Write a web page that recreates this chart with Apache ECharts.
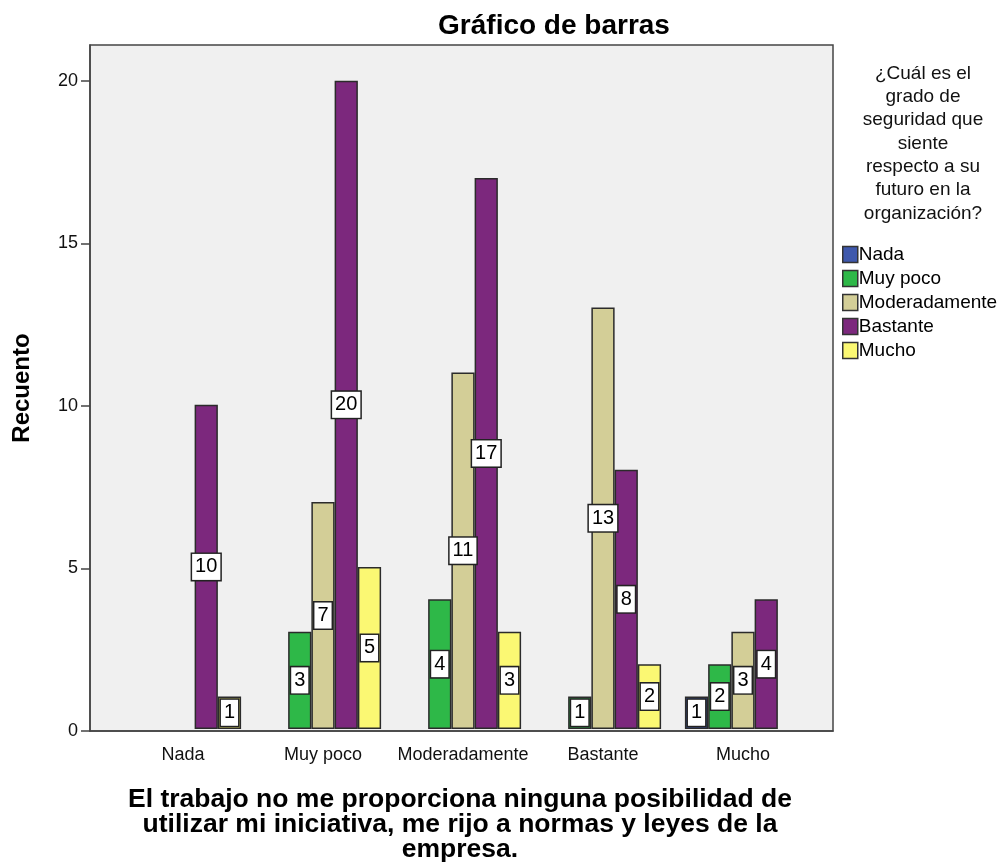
<!DOCTYPE html>
<html>
<head>
<meta charset="utf-8">
<script src="https://cdn.jsdelivr.net/npm/echarts@6/dist/echarts.min.js"></script>
<style>
  html, body { margin: 0; padding: 0; background: #fff; }
  #chart { width: 1003px; height: 868px; }
</style>
</head>
<body>
<div id="chart"></div>
<script>
  // categorias del eje x (respuesta a la pregunta del trabajo)
  var categories = ['Nada', 'Muy poco', 'Moderadamente', 'Bastante', 'Mucho'];
  // series = grado de seguridad
  var seriesNames = ['Nada', 'Muy poco', 'Moderadamente', 'Bastante', 'Mucho'];
  var valNada = [null, null, null, null, 1];
  var valMuyPoco = [null, 3, 4, 1, 2];
  var valModeradamente = [null, 7, 11, 13, 3];
  var valBastante = [10, 20, 17, 8, 4];
  var valMucho = [1, 5, 3, 2, null];
  var yTicks = [0, 5, 10, 15, 20];

  var colors = ['#3E58AC', '#2EB848', '#D3CE97', '#7C287D', '#FBF873'];
  var allValues = [valNada, valMuyPoco, valModeradamente, valBastante, valMucho];
  var font = '"Liberation Sans", Arial, sans-serif';
  var yMax = 21.1;

  var myChart = echarts.init(document.getElementById('chart'));

  var series = seriesNames.map(function (name, i) {
    return {
      name: name,
      type: 'bar',
      xAxisIndex: 1,
      yAxisIndex: 1,
      data: allValues[i],
      barGap: '0%',
      barCategoryGap: '17%',
      itemStyle: {
        color: colors[i],
        borderColor: '#2b2b2b',
        borderWidth: 1.5
      },
      label: {
        show: true,
        position: 'inside',
        color: '#000',
        fontFamily: font,
        fontSize: 20,
        backgroundColor: '#fff',
        borderColor: '#222',
        borderWidth: 1.5,
        padding: [4, 3, 2, 3]
      }
    };
  });

  myChart.setOption({
    animation: false,
    color: colors,
    title: [{
      text: 'Gráfico de barras',
      left: 549,
      top: 7,
      textAlign: 'center',
      textStyle: { fontFamily: font, fontSize: 28, fontWeight: 'bold', color: '#000' }
    }, {
      text: '¿Cuál es el\ngrado de\nseguridad que\nsiente\nrespecto a su\nfuturo en la\norganización?',
      left: 918,
      top: 57,
      textAlign: 'center',
      textStyle: { fontFamily: font, fontSize: 19, fontWeight: 'normal', color: '#111', lineHeight: 23.3, align: 'center' }
    }],
    legend: {
      orient: 'vertical',
      left: 837,
      top: 240,
      itemWidth: 15,
      itemHeight: 16,
      itemGap: 5,
      icon: 'rect',
      itemStyle: { borderColor: '#333', borderWidth: 1.5 },
      textStyle: { fontFamily: font, fontSize: 19, color: '#000', padding: [0, 0, 0, -4] },
      data: seriesNames
    },
    grid: [{
      // marco con fondo gris y eje y
      left: 90,
      right: 170,
      top: 45,
      bottom: 137,
      show: true,
      backgroundColor: '#f0f0f0',
      borderColor: '#444',
      borderWidth: 1.5
    }, {
      // zona de las barras
      left: 113,
      right: 190,
      top: 45,
      bottom: 137
    }],
    xAxis: [{
      gridIndex: 0,
      type: 'category',
      data: categories,
      axisLine: { lineStyle: { color: '#444', width: 1.5 } },
      axisTick: { show: false },
      axisLabel: { show: false }
    }, {
      gridIndex: 1,
      type: 'category',
      data: categories,
      axisLine: { show: false },
      axisTick: { alignWithLabel: true, length: 9, lineStyle: { color: '#444', width: 1.5 } },
      axisLabel: { interval: 0, fontFamily: font, fontSize: 18, color: '#111', margin: 17 },
      name: 'El trabajo no me proporciona ninguna posibilidad de\nutilizar mi iniciativa, me rijo a normas y leyes de la\nempresa.',
      nameLocation: 'middle',
      nameGap: 58,
      nameTextStyle: { fontFamily: font, fontSize: 26.5, fontWeight: 'bold', color: '#000', lineHeight: 25, verticalAlign: 'top', align: 'center', padding: [0, 0, 0, -6] }
    }],
    yAxis: [{
      gridIndex: 0,
      type: 'value',
      min: 0,
      max: yMax,
      interval: 5,
      splitLine: { show: false },
      axisLine: { show: true, lineStyle: { color: '#444', width: 1.5 } },
      axisTick: { show: true, length: 9, lineStyle: { color: '#444', width: 1.5 } },
      axisLabel: {
        fontFamily: font, fontSize: 18, color: '#111', margin: 12, showMaxLabel: false,
        formatter: function (v) { return yTicks.indexOf(v) >= 0 ? String(v) : ''; }
      },
      name: 'Recuento',
      nameLocation: 'middle',
      nameGap: 56,
      nameTextStyle: { fontFamily: font, fontSize: 24, fontWeight: 'bold', color: '#000' }
    }, {
      gridIndex: 1,
      type: 'value',
      min: 0,
      max: yMax,
      show: false
    }],
    series: series
  });
</script>
</body>
</html>
